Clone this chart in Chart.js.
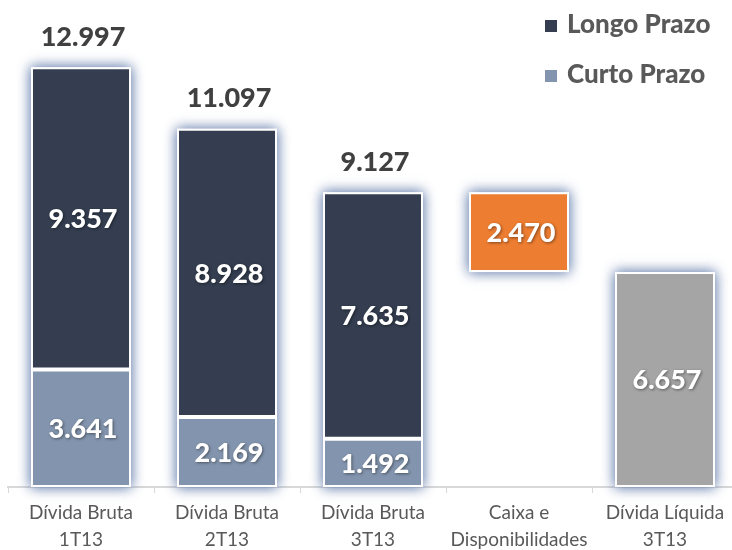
<!DOCTYPE html>
<html>
<head>
<meta charset="utf-8">
<script src="https://cdn.jsdelivr.net/npm/chart.js@4.4.0/dist/chart.umd.min.js"></script>
<style>
  html, body { margin: 0; padding: 0; background: #fff; overflow: hidden; }
  #wrap { width: 740px; height: 550px; }
</style>
</head>
<body>
<div id="wrap"><canvas id="divida" width="740" height="550"></canvas></div>
<script>
const categorias = [
  ["Dívida Bruta", "1T13"],
  ["Dívida Bruta", "2T13"],
  ["Dívida Bruta", "3T13"],
  ["Caixa e", "Disponibilidades"],
  ["Dívida Líquida", "3T13"],
];
const curtoPrazo = [3641, 2169, 1492, null, null];
const longoPrazo = [9357, 8928, 7635, null, null];
const caixa = [null, null, null, [6657, 9127], null];
const dividaLiquida = [null, null, null, null, 6657];
const totais = [12997, 11097, 9127, null, null];

const fmt = (n) => Math.floor(n / 1000) + "." + String(n % 1000).padStart(3, "0");

// glow behind each column
const glowPlugin = {
  id: "glow",
  beforeDatasetsDraw(chart) {
    const ctx = chart.ctx;
    categorias.forEach((c, i) => {
      let top = Infinity, bottom = -Infinity, x = null, w = 0;
      chart.data.datasets.forEach((ds, d) => {
        const el = chart.getDatasetMeta(d).data[i];
        if (!el || ds.data[i] == null) return;
        top = Math.min(top, el.y, el.base);
        bottom = Math.max(bottom, el.y, el.base);
        x = el.x; w = el.width;
      });
      if (x === null) return;
      ctx.save();
      ctx.shadowColor = "rgba(105,130,175,0.75)";
      ctx.shadowBlur = 12;
      ctx.fillStyle = "#fff";
      ctx.fillRect(x - w / 2, top, w, bottom - top);
      ctx.fillRect(x - w / 2, top, w, bottom - top);
      ctx.restore();
    });
  },
};

// value labels inside the bars and totals on top
const labelPlugin = {
  id: "valores",
  afterDatasetsDraw(chart) {
    const ctx = chart.ctx;
    ctx.save();
    ctx.textAlign = "center";
    ctx.textBaseline = "middle";
    ctx.font = "900 27px Lato";
    chart.data.datasets.forEach((ds, d) => {
      chart.getDatasetMeta(d).data.forEach((el, i) => {
        const v = ds.data[i];
        if (v == null) return;
        const n = Array.isArray(v) ? v[1] - v[0] : v;
        ctx.shadowColor = "rgba(0,0,0,0.45)";
        ctx.shadowBlur = 3;
        ctx.shadowOffsetX = 1;
        ctx.shadowOffsetY = 1;
        ctx.fillStyle = "#fff";
        ctx.fillText(fmt(n), el.x + 2, (el.y + el.base) / 2 + 1);
      });
    });
    ctx.shadowColor = "transparent";
    ctx.fillStyle = "#404040";
    const meta = chart.getDatasetMeta(1);
    totais.forEach((t, i) => {
      if (t == null) return;
      const el = meta.data[i];
      ctx.fillText(fmt(t), el.x + 2, el.y - 30);
    });
    ctx.restore();
  },
};

// legend in the top right corner
const legendPlugin = {
  id: "legenda",
  afterDraw(chart) {
    const ctx = chart.ctx;
    const items = [chart.data.datasets[1], chart.data.datasets[0]];
    ctx.save();
    ctx.font = "900 26px Lato";
    ctx.textBaseline = "middle";
    ctx.textAlign = "left";
    items.forEach((ds, k) => {
      const y = 25 + k * 50;
      ctx.fillStyle = ds.backgroundColor;
      ctx.fillRect(545, y - 5, 12, 12);
      ctx.fillStyle = "#595959";
      ctx.fillText(ds.label, 567, y);
    });
    ctx.restore();
  },
};

const barOpts = {
  borderColor: "#fff",
  borderWidth: 2,
  borderSkipped: false,
  barPercentage: 0.685,
  categoryPercentage: 1,
};

new Chart(document.getElementById("divida"), {
  type: "bar",
  data: {
    labels: categorias,
    datasets: [
      { label: "Curto Prazo", data: curtoPrazo, backgroundColor: "#8395AE", ...barOpts },
      { label: "Longo Prazo", data: longoPrazo, backgroundColor: "#343E50", ...barOpts },
      { label: "Caixa e Disponibilidades", data: caixa, backgroundColor: "#ED7D31", ...barOpts },
      { label: "Dívida Líquida", data: dividaLiquida, backgroundColor: "#A5A5A5", ...barOpts },
    ],
  },
  options: {
    responsive: false,
    animation: false,
    devicePixelRatio: 1,
    layout: { padding: { left: 8, right: 2, top: 35, bottom: 0 } },
    plugins: {
      legend: { display: false },
      tooltip: { enabled: false },
    },
    scales: {
      x: {
        stacked: true,
        afterFit: (s) => { s.height = 63; },
        grid: {
          drawOnChartArea: false,
          color: "#D9D9D9",
          tickLength: 6,
        },
        border: { color: "#D9D9D9", width: 2 },
        ticks: {
          color: "#595959",
          font: { family: "Lato", size: 19, lineHeight: 1.42 },
          padding: 6,
          maxRotation: 0,
          autoSkip: false,
        },
      },
      y: {
        stacked: true,
        display: false,
        min: 0,
        max: 14000,
      },
    },
  },
  plugins: [glowPlugin, labelPlugin, legendPlugin],
});
</script>
</body>
</html>
